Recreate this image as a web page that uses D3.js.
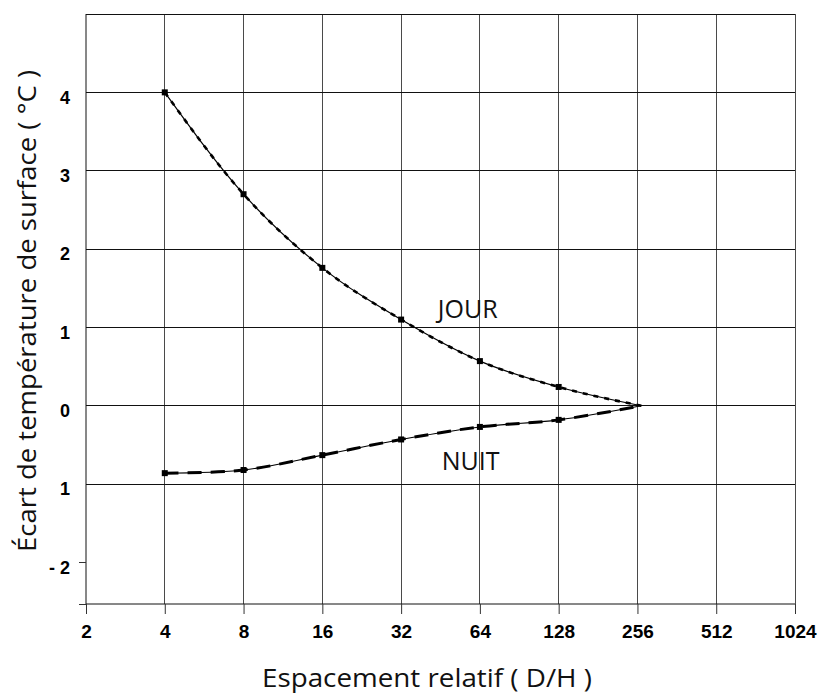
<!DOCTYPE html>
<html><head><meta charset="utf-8">
<script src="https://cdn.jsdelivr.net/npm/d3@7"></script>
<style>body{margin:0;background:#fff}svg{display:block}</style>
</head><body>
<script>
// ---- data ----
const spacing = [4, 8, 16, 32, 64, 128, 265];
const jour = [4.0, 2.70, 1.76, 1.10, 0.57, 0.24, 0.0];
const nuit = [-0.86, -0.82, -0.63, -0.43, -0.27, -0.18, 0.0];
const xTicks = [2, 4, 8, 16, 32, 64, 128, 256, 512, 1024];
const yTicks = [4, 3, 2, 1, 0, -1, -2];
const yTickLabels = ["4", "3", "2", "1", "0", "1", "- 2"];
const yGrid = [4, 3, 2, 1, 0, -1];
const seriesLabels = [{text: "JOUR", x: 57.5, y: 1.12}, {text: "NUIT", x: 59, y: -0.82}];

const W = 822, H = 696;
const svg = d3.select("body").append("svg").attr("width", W).attr("height", H);
const x = d3.scaleLog().base(2).domain([2, 1024]).range([86, 795]);
const y = d3.scaleLinear().domain([-2.53, 5]).range([604, 14]);

// gridlines
svg.append("g").selectAll("line").data(xTicks.slice(1)).join("line")
  .attr("x1", d => x(d)).attr("x2", d => x(d)).attr("y1", y(5)).attr("y2", y(-2.53))
  .attr("stroke", "#4a4a4a").attr("stroke-width", 1).attr("shape-rendering", "crispEdges");
svg.append("g").selectAll("line").data(yGrid).join("line")
  .attr("x1", x(2)).attr("x2", x(1024)).attr("y1", d => y(d)).attr("y2", d => y(d))
  .attr("stroke", "#111").attr("stroke-width", 1).attr("shape-rendering", "crispEdges");
// top border
svg.append("line").attr("x1", x(2)).attr("x2", x(1024)).attr("y1", y(5)).attr("y2", y(5))
  .attr("stroke", "#111").attr("shape-rendering", "crispEdges");

// axes
const xAxis = d3.axisBottom(x).tickValues(xTicks).tickFormat(d => String(d)).tickSize(10).tickPadding(6);
const gx = svg.append("g").attr("transform", `translate(0,${y(-2.53)})`).call(xAxis);
gx.select(".domain").attr("stroke", "#111").attr("d", `M${x(2)},0H${x(1024)}`);
gx.selectAll(".tick line").attr("stroke", "#333");
gx.selectAll("text").attr("font-family", "Liberation Sans, Arial, sans-serif").attr("font-weight", "bold")
  .attr("font-size", 19).attr("fill", "#000").attr("dy", "0.95em");

const yAxis = d3.axisLeft(y).tickValues(yTicks).tickFormat((d, i) => yTickLabels[i]).tickSize(0).tickPadding(16);
const gy = svg.append("g").attr("transform", `translate(${x(2)},0)`).call(yAxis);
gy.select(".domain").attr("stroke", "#111").attr("d", `M0,${y(5)}V${y(-2.53)}`);
gy.selectAll("text").attr("font-family", "Liberation Sans, Arial, sans-serif").attr("font-weight", "bold")
  .attr("font-size", 18).attr("fill", "#000").attr("dy", "0.6em");
// small left ticks at -2 and bottom
svg.append("g").selectAll("line").data([-2, -2.53]).join("line")
  .attr("x1", x(2) - 7).attr("x2", x(2)).attr("y1", d => y(d)).attr("y2", d => y(d))
  .attr("stroke", "#333").attr("shape-rendering", "crispEdges");

// series
const ptsJ = spacing.map((s, i) => [s, jour[i]]);
const ptsN = spacing.map((s, i) => [s, nuit[i]]);
const lineJ = d3.line().x(d => x(d[0])).y(d => y(d[1])).curve(d3.curveMonotoneX);
const lineN = d3.line().x(d => x(d[0])).y(d => y(d[1])).curve(d3.curveCatmullRom.alpha(0.5));

svg.append("path").attr("d", lineJ(ptsJ)).attr("fill", "none").attr("stroke", "#000").attr("stroke-width", 1.2);
svg.append("path").attr("d", lineJ(ptsJ)).attr("fill", "none").attr("stroke", "#000").attr("stroke-width", 2.6)
  .attr("stroke-dasharray", "5,6");
svg.append("path").attr("d", lineN(ptsN)).attr("fill", "none").attr("stroke", "#000").attr("stroke-width", 1.1);
svg.append("path").attr("d", lineN(ptsN)).attr("fill", "none").attr("stroke", "#000").attr("stroke-width", 3)
  .attr("stroke-dasharray", "14,9");

const markers = ptsJ.slice(0, 6).concat(ptsN.slice(0, 6));
svg.append("g").selectAll("rect").data(markers).join("rect")
  .attr("x", d => x(d[0]) - 3).attr("y", d => y(d[1]) - 3).attr("width", 6).attr("height", 6).attr("fill", "#000");

// series labels
svg.append("g").selectAll("text").data(seriesLabels).join("text")
  .attr("x", d => x(d.x)).attr("y", d => y(d.y)).attr("text-anchor", "middle")
  .attr("font-family", "'Open Sans', Lato, sans-serif").attr("font-size", 25).attr("fill", "#111")
  .text(d => d.text);

// axis titles
svg.append("text").attr("x", 427).attr("y", 687).attr("text-anchor", "middle")
  .attr("font-family", "'Open Sans', Lato, sans-serif").attr("font-size", 25).attr("fill", "#111")
  .attr("textLength", 330).attr("lengthAdjust", "spacingAndGlyphs")
  .text("Espacement relatif ( D/H )");
svg.append("text").attr("transform", "translate(36,311) rotate(-90)").attr("text-anchor", "middle")
  .attr("font-family", "'Open Sans', Lato, sans-serif").attr("font-size", 25).attr("fill", "#111")
  .attr("textLength", 482).attr("lengthAdjust", "spacingAndGlyphs")
  .text("Écart de température de surface ( °C )");
</script>
</body></html>
